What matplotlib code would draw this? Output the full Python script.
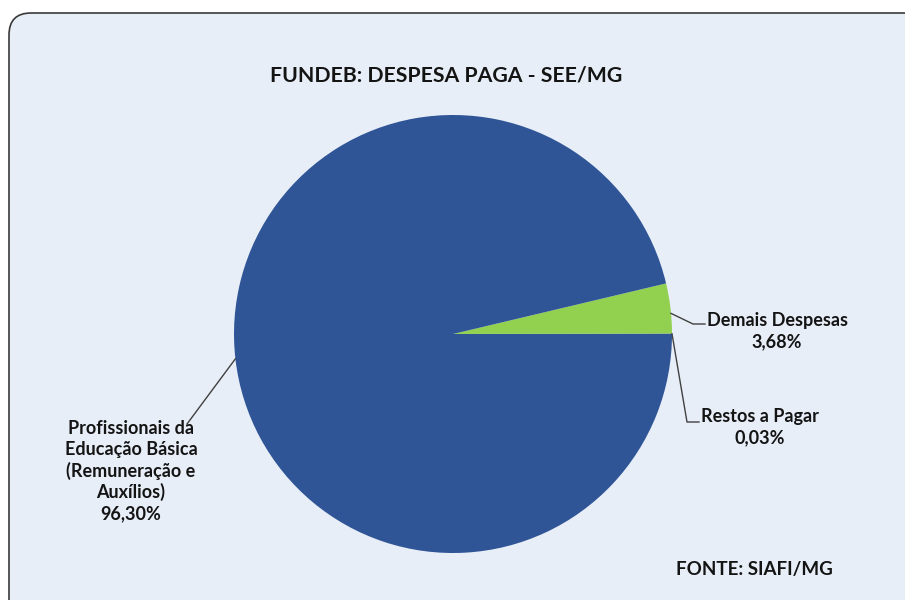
import numpy as np
import matplotlib.pyplot as plt
from matplotlib.patches import FancyBboxPatch

categorias = ['Restos a Pagar', 'Demais Despesas',
              'Profissionais da\nEducação Básica\n(Remuneração e\nAuxílios)']
percentuais = [0.03, 3.68, 96.30]
cores = ['#1f3f7a', '#92d050', '#2f5597']
titulo = 'FUNDEB: DESPESA PAGA - SEE/MG'
fonte = 'FONTE: SIAFI/MG'

plt.rcParams['font.family'] = ['Lato', 'DejaVu Sans']

fig = plt.figure(figsize=(9.05, 6), dpi=100)
ax = fig.add_axes([0, 0, 1, 1])

# moldura arredondada
box = FancyBboxPatch((9, -40), 930, 627, boxstyle='round,pad=0,rounding_size=22',
                     facecolor='#e8eef7', edgecolor='#3a3a3a', linewidth=1.2, zorder=0)
ax.add_patch(box)

cx, cy, r = 453, 266, 219
wedges, _ = ax.pie(percentuais, colors=cores, startangle=0, counterclock=True,
                   center=(cx, cy), radius=r, frame=True,
                   wedgeprops=dict(linewidth=0))
ax.set_xlim(0, 905)
ax.set_ylim(0, 600)
ax.set_aspect('equal')
ax.axis('off')

def pct(v):
    return f'{v:.2f}%'.replace('.', ',')

def borda(w, frac=0.5):
    ang = np.deg2rad(w.theta1 + (w.theta2 - w.theta1) * frac)
    return cx + r * np.cos(ang), cy + r * np.sin(ang)

lw = 1.0
lc = '#404040'
tc = '#141414'
fs = 13
# Demais Despesas
x0, y0 = borda(wedges[1], 0.4)
ax.plot([x0, 693, 705], [y0, 276, 276], color=lc, lw=lw)
ax.text(777, 269, categorias[1] + '\n' + pct(percentuais[1]), ha='center', va='center',
        fontsize=fs, fontweight='bold', color=tc, linespacing=1.25)
# Restos a Pagar
x0, y0 = borda(wedges[0])
ax.plot([x0, 687, 699], [y0, 178, 178], color=lc, lw=lw)
ax.text(760, 173, categorias[0] + '\n' + pct(percentuais[0]), ha='center', va='center',
        fontsize=fs, fontweight='bold', color=tc, linespacing=1.25)
# Profissionais
ang = np.deg2rad(186.5)
ax.plot([cx + r * np.cos(ang), 187], [cy + r * np.sin(ang), 176], color=lc, lw=lw)
ax.text(131, 129, categorias[2] + '\n' + pct(percentuais[2]), ha='center', va='center',
        fontsize=fs, fontweight='bold', color=tc, linespacing=1.25)

ax.text(446, 525, titulo, ha='center', va='center', fontsize=15.3,
        fontweight='bold', color=tc)
ax.text(754, 30, fonte, ha='center', va='center', fontsize=13.5,
        fontweight='bold', color=tc)

fig.savefig('out.png', dpi=100, facecolor='white')
